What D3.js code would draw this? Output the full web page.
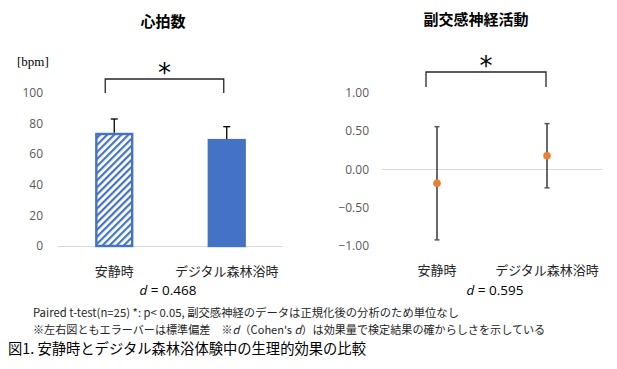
<!DOCTYPE html>
<html><head><meta charset="utf-8">
<script src="https://cdn.jsdelivr.net/npm/d3@7"></script>
<style>body{margin:0;background:#fff}svg{display:block}</style>
</head><body>
<svg id="c" width="617" height="369"></svg>
<script>
const categories = ["安静時", "デジタル森林浴時"];
const hrMean = [74, 70];
const hrSD = [9, 8];
const hrTicks = [0, 20, 40, 60, 80, 100];
const psMean = [-0.18, 0.18];
const psSD = [0.74, 0.42];
const psTicks = [-1, -0.5, 0, 0.5, 1];
const titles = ["心拍数", "副交感神経活動"];
const effectSizes = ["0.468", "0.595"];
const unitLabel = "[bpm]";
const notes = ["Paired t-test(n=25) *: p< 0.05,  副交感神経のデータは正規化後の分析のため単位なし"];
const caption = "図1. 安静時とデジタル森林浴体験中の生理的効果の比較";

const svg = d3.select("#c");
const JP = "'Noto Sans CJK JP','Noto Sans',sans-serif";
const NUM = "'Open Sans','Noto Sans',sans-serif";
const blue = "#4472C4", orange = "#ED7D31", gray = "#595959";

const defs = svg.append("defs");
const pat = defs.append("pattern").attr("id","hatch").attr("patternUnits","userSpaceOnUse")
  .attr("width",5).attr("height",5).attr("patternTransform","rotate(45)");
pat.append("rect").attr("width",5).attr("height",5).attr("fill","#fff");
pat.append("rect").attr("x",0).attr("width",2.2).attr("height",5).attr("fill",blue);

// ---- Left chart ----
const xL = d3.scaleBand().domain(categories).range([58, 283]);
const yL = d3.scaleLinear().domain([0, 100]).range([246, 93]);
const gL = svg.append("g");
gL.append("line").attr("x1",58).attr("x2",283).attr("y1",yL(0)+0.5).attr("y2",yL(0)+0.5)
  .attr("stroke","#d9d9d9").attr("stroke-width",1);
gL.selectAll(".yt").data(hrTicks).join("text")
  .attr("x",43).attr("y",d=>yL(d)).attr("dy","0.35em").attr("text-anchor","end")
  .attr("font-family",NUM).attr("font-size",12).attr("fill",gray).text(d=>d);
const bw = xL.bandwidth()*0.34;
gL.selectAll(".bar").data(categories).join("rect")
  .attr("x",d=>xL(d)+xL.bandwidth()/2-bw/2+1.2)
  .attr("y",(d,i)=>yL(hrMean[i])+1.2)
  .attr("width",bw-2.4)
  .attr("height",(d,i)=>yL(0)-yL(hrMean[i])-1.2)
  .attr("fill",(d,i)=>i===0?"url(#hatch)":blue)
  .attr("stroke",blue).attr("stroke-width",2.4);
categories.forEach((c,i)=>{
  const cx = xL(c)+xL.bandwidth()/2;
  gL.append("line").attr("x1",cx).attr("x2",cx).attr("y1",yL(hrMean[i])).attr("y2",yL(hrMean[i]+hrSD[i]))
    .attr("stroke","#000").attr("stroke-width",1.3);
  gL.append("line").attr("x1",cx-3.5).attr("x2",cx+3.5).attr("y1",yL(hrMean[i]+hrSD[i])).attr("y2",yL(hrMean[i]+hrSD[i]))
    .attr("stroke","#000").attr("stroke-width",1.3);
  gL.append("text").attr("x",cx).attr("y",276).attr("text-anchor","middle")
    .attr("font-family",JP).attr("font-size",13).attr("fill","#262626").text(c);
});
{
  const x1 = xL(categories[0])+xL.bandwidth()/2-9, x2 = xL(categories[1])+xL.bandwidth()/2-3;
  gL.append("path").attr("d",`M${x1},93 V79 H${x2} V93`).attr("fill","none").attr("stroke","#262626").attr("stroke-width",1.3);
  gL.append("text").attr("x",(x1+x2)/2).attr("y",82).attr("text-anchor","middle")
    .attr("font-family","'DejaVu Sans',sans-serif").attr("font-size",26).attr("fill","#000").text("*");
}
gL.append("text").attr("x",163).attr("y",27).attr("text-anchor","middle").attr("font-family",JP)
  .attr("font-weight","bold").attr("font-size",15).attr("fill","#000").text(titles[0]);
gL.append("text").attr("x",17).attr("y",66).attr("font-family","'Liberation Serif',serif")
  .attr("font-size",13).attr("fill","#000").text(unitLabel);
{
  const t = gL.append("text").attr("x",168).attr("y",295).attr("text-anchor","middle")
    .attr("font-family",NUM).attr("font-size",13.5).attr("fill","#000");
  t.append("tspan").attr("font-style","italic").text("d");
  t.append("tspan").text(" = " + effectSizes[0]);
}

// ---- Right chart ----
const xR = d3.scaleBand().domain(categories).range([382, 602]);
const yR = d3.scaleLinear().domain([-1, 1]).range([246, 93]);
const gR = svg.append("g");
gR.append("line").attr("x1",382).attr("x2",602).attr("y1",yR(0)).attr("y2",yR(0))
  .attr("stroke","#d9d9d9").attr("stroke-width",1);
gR.selectAll(".yt").data(psTicks).join("text")
  .attr("x",369).attr("y",d=>yR(d)).attr("dy","0.35em").attr("text-anchor","end")
  .attr("font-family",NUM).attr("font-size",12).attr("fill",gray).text(d=>d3.format(".2f")(d));
categories.forEach((c,i)=>{
  const cx = xR(c)+xR.bandwidth()/2;
  const top = yR(psMean[i]+psSD[i]), bot = yR(psMean[i]-psSD[i]);
  gR.append("line").attr("x1",cx).attr("x2",cx).attr("y1",top).attr("y2",bot).attr("stroke",gray).attr("stroke-width",1.8);
  gR.append("line").attr("x1",cx-2.5).attr("x2",cx+2.5).attr("y1",top).attr("y2",top).attr("stroke",gray).attr("stroke-width",1.5);
  gR.append("line").attr("x1",cx-2.5).attr("x2",cx+2.5).attr("y1",bot).attr("y2",bot).attr("stroke",gray).attr("stroke-width",1.5);
  gR.append("circle").attr("cx",cx).attr("cy",yR(psMean[i])).attr("r",3.8).attr("fill",orange);
  gR.append("text").attr("x",cx).attr("y",275).attr("text-anchor","middle")
    .attr("font-family",JP).attr("font-size",13).attr("fill","#262626").text(c);
});
{
  const x1 = 426, x2 = 546;
  gR.append("path").attr("d",`M${x1},87 V72 H${x2} V87`).attr("fill","none").attr("stroke","#262626").attr("stroke-width",1.3);
  gR.append("text").attr("x",(x1+x2)/2).attr("y",75).attr("text-anchor","middle")
    .attr("font-family","'DejaVu Sans',sans-serif").attr("font-size",26).attr("fill","#000").text("*");
}
gR.append("text").attr("x",476).attr("y",25).attr("text-anchor","middle").attr("font-family",JP)
  .attr("font-weight","bold").attr("font-size",15).attr("fill","#000").text(titles[1]);
{
  const t = gR.append("text").attr("x",495).attr("y",295).attr("text-anchor","middle")
    .attr("font-family",NUM).attr("font-size",13.5).attr("fill","#000");
  t.append("tspan").attr("font-style","italic").text("d");
  t.append("tspan").text(" = " + effectSizes[1]);
}

// ---- notes ----
svg.append("text").attr("x",33).attr("y",317).attr("font-family",JP).attr("font-size",11.3)
  .attr("fill","#262626").attr("textLength",426).attr("lengthAdjust","spacing").text(notes[0]);
{
  const t = svg.append("text").attr("x",33).attr("y",334).attr("font-family",JP).attr("font-size",11.1)
    .attr("fill","#262626");
  t.append("tspan").text("※左右図ともエラーバーは標準偏差　※");
  t.append("tspan").attr("font-style","italic").text("d");
  t.append("tspan").text("（Cohen's ");
  t.append("tspan").attr("font-style","italic").text("d");
  t.append("tspan").text("）は効果量で検定結果の確からしさを示している");
}
svg.append("text").attr("x",8).attr("y",354).attr("font-family",JP).attr("font-size",14.3)
  .attr("fill","#000").text(caption);
</script>
</body></html>
